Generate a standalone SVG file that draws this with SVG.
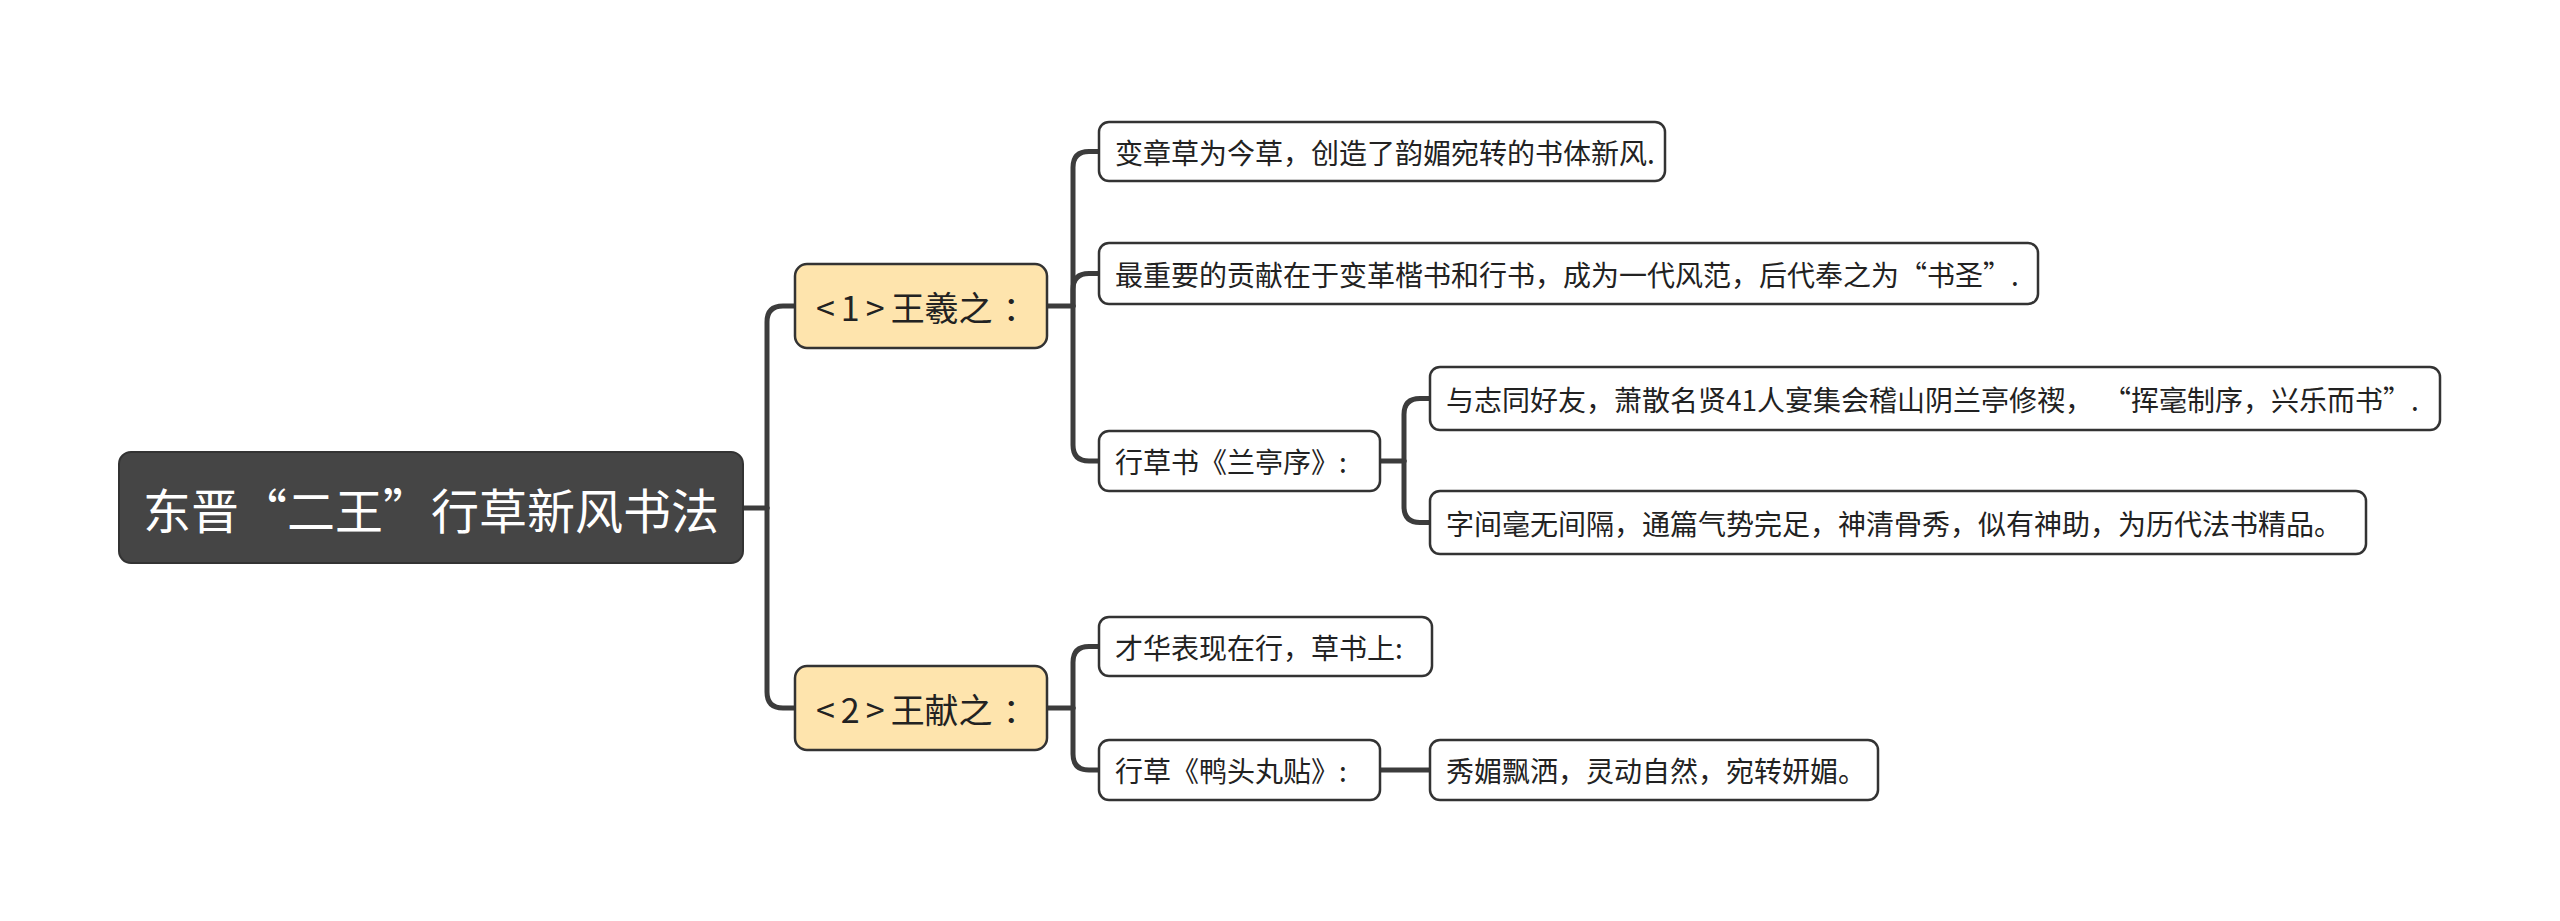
<svg xmlns="http://www.w3.org/2000/svg" width="2560" height="921" viewBox="0 0 2560 921">
<style>
text{font-family:"Microsoft YaHei","Noto Sans CJK SC","Noto Sans",sans-serif;dominant-baseline:central}
.root rect{fill:#454545;stroke:#333;stroke-width:2}
.root text{fill:#fff;font-size:48px}
.sub rect{fill:#fee4ad;stroke:#333;stroke-width:2.5}
.sub text{fill:#222;font-size:34px}
.sp{letter-spacing:6px}
.leaf rect{fill:#fff;stroke:#333;stroke-width:2.5}
.leaf text{fill:#222;font-size:28px}
.conn path{fill:none;stroke:#3c3c3c;stroke-width:5;stroke-linecap:round}
</style>
<rect width="2560" height="921" fill="#fff"/>
<g class="conn">
<path d="M743,508 H767"/>
<path d="M767,508 V322 Q767,306 783,306 H795"/>
<path d="M767,508 V692 Q767,708 783,708 H795"/>
<path d="M1047,306 H1073"/>
<path d="M1073,306 V167.5 Q1073,151.5 1089,151.5 H1099"/>
<path d="M1073,306 V289.5 Q1073,273.5 1089,273.5 H1099"/>
<path d="M1073,306 V445 Q1073,461 1089,461 H1099"/>
<path d="M1047,708 H1073"/>
<path d="M1073,708 V662.5 Q1073,646.5 1089,646.5 H1099"/>
<path d="M1073,708 V754 Q1073,770 1089,770 H1099"/>
<path d="M1380,461 H1404"/>
<path d="M1404,461 V414.5 Q1404,398.5 1420,398.5 H1430"/>
<path d="M1404,461 V506.5 Q1404,522.5 1420,522.5 H1430"/>
<path d="M1380,770 H1430"/>
</g>
<g id="root" class="root"><rect x="119" y="452" width="624" height="111" rx="12"/><text x="431" y="508" text-anchor="middle">东晋“二王”行草新风书法</text></g>
<g id="n1" class="sub"><rect x="795" y="264" width="252" height="84" rx="12"/><text x="816" y="306"><tspan class="sp">&lt;1&gt;</tspan>王羲之<tspan dx="10">：</tspan></text></g>
<g id="n2" class="sub"><rect x="795" y="666" width="252" height="84" rx="12"/><text x="816" y="708"><tspan class="sp">&lt;2&gt;</tspan>王献之<tspan dx="10">：</tspan></text></g>
<g id="a" class="leaf"><rect x="1099" y="122" width="566" height="59" rx="10"/><text x="1115" y="151.5">变章草为今草，创造了韵媚宛转的书体新风.</text></g>
<g id="b" class="leaf"><rect x="1099" y="243" width="939" height="61" rx="10"/><text x="1115" y="273.5">最重要的贡献在于变革楷书和行书，成为一代风范，后代奉之为“书圣”.</text></g>
<g id="c" class="leaf"><rect x="1099" y="431" width="281" height="60" rx="10"/><text x="1115" y="461">行草书《兰亭序》:</text></g>
<g id="c1" class="leaf"><rect x="1430" y="367" width="1010" height="63" rx="10"/><text x="1446" y="398.5">与志同好友，萧散名贤41人宴集会稽山阴兰亭修禊，<tspan dx="24">“挥毫制序，兴乐而书”.</tspan></text></g>
<g id="c2" class="leaf"><rect x="1430" y="491" width="936" height="63" rx="10"/><text x="1446" y="522.5">字间毫无间隔，通篇气势完足，神清骨秀，似有神助，为历代法书精品。</text></g>
<g id="d" class="leaf"><rect x="1099" y="617" width="333" height="59" rx="10"/><text x="1115" y="646.5">才华表现在行，草书上:</text></g>
<g id="e" class="leaf"><rect x="1099" y="740" width="281" height="60" rx="10"/><text x="1115" y="770">行草《鸭头丸贴》:</text></g>
<g id="e1" class="leaf"><rect x="1430" y="740" width="448" height="60" rx="10"/><text x="1446" y="770">秀媚飘洒，灵动自然，宛转妍媚。</text></g>
</svg>
